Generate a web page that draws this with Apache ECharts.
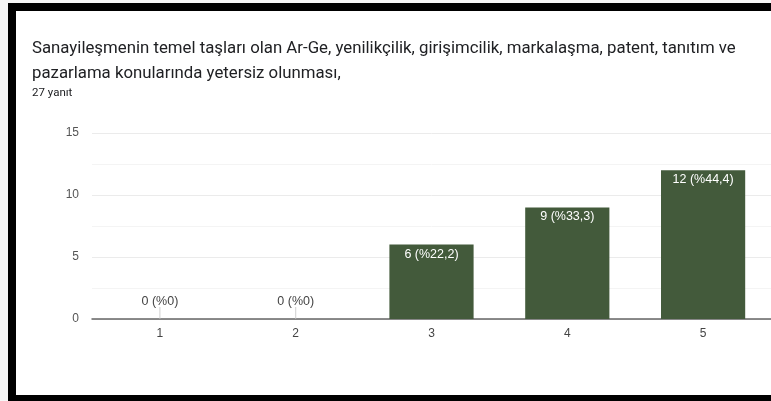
<!DOCTYPE html>
<html>
<head>
<meta charset="utf-8">
<script src="https://cdn.jsdelivr.net/npm/echarts@6/dist/echarts.min.js"></script>
<style>
  html, body { margin: 0; padding: 0; width: 771px; height: 401px; overflow: hidden; background: #f6f6f6; }
  .frame {
    position: absolute; left: 8px; top: 3px; width: 780px; height: 398px;
    box-sizing: border-box; background: #fff;
    border-left: 8px solid #000; border-top: 8px solid #000; border-bottom: 6px solid #000;
  }
  #chart { position: absolute; left: 0; top: 0; width: 771px; height: 401px; }
</style>
</head>
<body>
<div class="frame"></div>
<div id="chart"></div>
<script>
const categories = ['1', '2', '3', '4', '5'];
const counts = [0, 0, 6, 9, 12];
const percentLabels = ['0', '0', '22,2', '33,3', '44,4'];
const yTicks = [0, 5, 10, 15];

const barColor = '#435a3b';

const chart = echarts.init(document.getElementById('chart'), null, { renderer: 'canvas' });

const barData = counts.map((v, i) => {
  const text = v + ' (%' + percentLabels[i] + ')';
  if (v === 0) {
    return { value: v, label: { show: true, position: 'top', distance: 11, color: '#444', formatter: text } };
  }
  return { value: v, label: { show: true, position: 'insideTop', distance: 3, color: '#fff', formatter: text } };
});

// little stems under the zero labels
const stemData = counts.map((v) => (v === 0 ? 0 : '-'));

chart.setOption({
  animation: false,
  textStyle: { fontFamily: 'Liberation Sans, Arial, sans-serif' },
  title: {
    left: 27,
    top: 31,
    text: 'Sanayileşmenin temel taşları olan Ar-Ge, yenilikçilik, girişimcilik, markalaşma, patent, tanıtım ve\npazarlama konularında yetersiz olunması,',
    textStyle: { fontFamily: 'Roboto', fontSize: 16.8, fontWeight: 'normal', color: '#202124', lineHeight: 25 },
    subtext: '27 yanıt',
    subtextStyle: { fontFamily: 'Roboto', fontSize: 11.5, color: '#202124' },
    itemGap: 1
  },
  grid: { left: 92, right: 0, top: 133, bottom: 82 },
  xAxis: {
    type: 'category',
    data: categories,
    axisLine: { lineStyle: { color: '#666', width: 1.5 } },
    axisTick: { show: false },
    axisLabel: { color: '#444', fontSize: 12, margin: 9 }
  },
  yAxis: {
    type: 'value',
    min: yTicks[0],
    max: yTicks[yTicks.length - 1],
    interval: 5,
    axisLine: { show: false },
    axisTick: { show: false },
    axisLabel: { color: '#555', fontSize: 12, margin: 13 },
    splitLine: { lineStyle: { color: '#ebebeb' } },
    minorTick: { show: false, splitNumber: 2 },
    minorSplitLine: { show: true, lineStyle: { color: '#f4f4f4' } }
  },
  series: [
    {
      type: 'bar',
      data: barData,
      barWidth: '62%',
      itemStyle: { color: barColor },
      labelLayout: { hideOverlap: false },
      label: { fontSize: 12.5 },
      z: 2
    },
    {
      type: 'scatter',
      data: stemData,
      symbol: 'rect',
      symbolSize: [1, 12],
      symbolOffset: [0, -6],
      itemStyle: { color: '#c4c4c4' },
      silent: true,
      z: 1
    }
  ]
});
</script>
</body>
</html>
